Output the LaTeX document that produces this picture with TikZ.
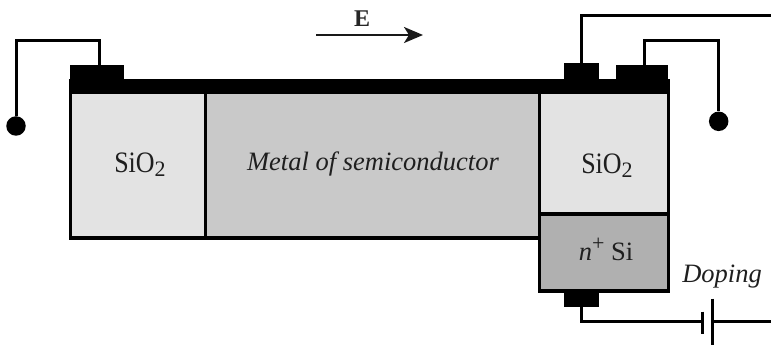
\documentclass[tikz,border=0pt]{standalone}
\usepackage{fontspec}
\setmainfont{Liberation Serif}
\usetikzlibrary{arrows.meta}
\newcommand{\siotwo}{\scalebox{0.98}[1.12]{SiO}\raisebox{-4.5pt}{\fontsize{22}{25}\selectfont 2}}
\newcommand{\supplus}{\raisebox{10pt}{\fontsize{22}{25}\selectfont +}}
\tikzset{
  x=1pt,y=-1pt,
  wall/.style={draw=black,line width=3.6pt,line join=miter},
  wire/.style={draw=black,line width=3pt,line join=miter},
  padblk/.style={fill=black},
  dot/.style={circle,fill=black,inner sep=0pt,minimum size=19.5pt},
  lbl/.style={font=\fontsize{26.5}{30}\selectfont,text=black!88,inner sep=0pt,anchor=base},
  ilbl/.style={lbl,font=\fontsize{26.5}{30}\selectfont\itshape}
}
\begin{document}
\begin{tikzpicture}
\useasboundingbox (0,0) rectangle (771,347);
% body
\filldraw[wall,fill=black!11] (70.3,86) rectangle (205.6,238);
\filldraw[wall,fill=black!21] (205.6,86) rectangle (539.3,238);
\filldraw[wall,fill=black!11] (539.3,86) rectangle (668.3,214);
\filldraw[wall,fill=black!31] (539.3,214) rectangle (668.3,291);
\fill[black] (68.6,78.7) rectangle (670,93.7);
% pads
\fill[padblk] (69.7,64.7) rectangle (123.7,79);
\fill[padblk] (564,63.3) rectangle (599.3,79);
\fill[padblk] (615.7,64.7) rectangle (668.3,79);
\fill[padblk] (564,291) rectangle (599.3,307.5);
% anchors
\coordinate (padL) at (99.5,66);
\coordinate (padR1) at (581,66);
\coordinate (padR2) at (644.3,66);
\coordinate (padB) at (581,306);
\node[dot] (dotL) at (16,126) {};
\node[dot] (dotR) at (718.7,121.3) {};
\coordinate (endT) at (771,16);
\coordinate (endB) at (771,322);
\coordinate (platA) at (702.3,322);
\coordinate (platB) at (712.3,322);
% wires
\draw[wire] (padL) -- (99.5,41) -- (16,41) -- (dotL);
\draw[wire] (padR1) |- (endT);
\draw[wire] (padR2) -- (644.3,41) -- (718.7,41) -- (dotR);
\draw[wire] (padB) |- (platA);
\draw[wire] (platB) -- (endB);
% battery
\draw[line width=3.4pt] (702.3,311.7) -- (702.3,334);
\draw[line width=3.4pt] (712.3,298.7) -- (712.3,345.3);
% field arrow
\coordinate (eA) at (316,35);
\coordinate (eB) at (423,35);
\draw[line width=2.2pt,black!90,-{Stealth[length=19pt,width=16pt,inset=5pt]}] (eA) -- (eB);
\node[inner sep=0pt,anchor=base,font=\fontsize{24}{28}\selectfont\bfseries,text=black!85] (eL) at (362,27) {E};
% labels
\node[lbl] (s1) at (140,172.5) {\siotwo};
\node[ilbl] (m) at (373,171) {Metal of semiconductor};
\node[lbl] (s2) at (607,173.5) {\siotwo};
\node[lbl] (n) at (606,261) {\textit{n}\supplus\ Si};
\node[ilbl] (d) at (722,283) {Doping};
\end{tikzpicture}
\end{document}
